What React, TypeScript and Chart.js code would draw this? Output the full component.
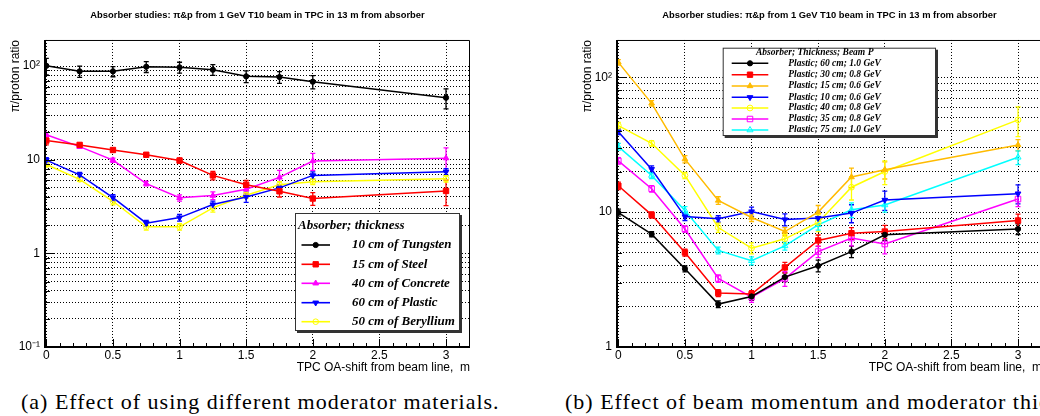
import React, { useEffect, useRef } from 'react';
import { Chart, registerables } from 'chart.js';

Chart.register(...registerables);

// ---------- text ----------
const TITLE = 'Absorber studies: π&p from 1 GeV T10 beam in TPC in 13 m from absorber';
const X_TITLE = 'TPC OA-shift from beam line,  m';
const Y_TITLE = 'π/proton ratio';
const CAPTION_A = '(a) Effect of using different moderator materials.';
const CAPTION_B = '(b) Effect of beam momentum and moderator thickness.';

// ---------- shared x values / ticks ----------
const shifts = [0, 0.25, 0.5, 0.75, 1, 1.25, 1.5, 1.75, 2, 3];
const xTicks = [0, 0.5, 1, 1.5, 2, 2.5, 3];

// ---------- (a) materials ----------
const tungsten = [100.7, 87.9, 87.9, 98.4, 96.9, 91.4, 77.7, 76.4, 68.1, 46.0];
const tungstenErr = [20, 12, 11, 13, 13, 12, 11, 11, 11, 11];
const steel = [16.0, 14.4, 12.7, 11.3, 9.8, 6.8, 5.4, 4.6, 3.85, 4.64];
const steelErr = [1.6, 0.6, 0.5, 0.5, 0.6, 0.7, 0.6, 0.6, 0.6, 1.4];
const concrete = [18.5, 13.8, 9.9, 5.56, 3.92, 4.14, 4.83, 6.48, 9.7, 10.4];
const concreteErr = [1.0, 0.6, 0.5, 0.3, 0.3, 0.4, 0.5, 1.2, 2.0, 3.0];
const plastic60 = [9.9, 6.9, 3.94, 2.1, 2.41, 3.32, 4.0, 5.0, 6.8, 7.45];
const plastic60Err = [0.6, 0.4, 0.3, 0.15, 0.2, 0.3, 0.5, 0.4, 0.6, 0.6];
const beryllium = [8.9, 6.17, 3.6, 1.92, 1.92, 3.06, 4.17, 5.42, 5.83, 6.28];
const berylliumErr = [0.5, 0.3, 0.3, 0.15, 0.15, 0.3, 0.3, 0.4, 0.4, 0.5];

// ---------- (b) momentum / thickness ----------
const p60_10 = [9.93, 6.87, 3.8, 2.08, 2.37, 3.3, 4.0, 5.1, 6.79, 7.5];
const p60_10Err = [0.6, 0.3, 0.2, 0.12, 0.15, 0.25, 0.4, 0.5, 0.6, 0.7];
const p30_08 = [15.7, 9.55, 5.02, 2.51, 2.47, 3.89, 6.17, 6.98, 7.18, 8.67];
const p30_08Err = [1.0, 0.5, 0.3, 0.15, 0.15, 0.35, 0.6, 0.7, 0.8, 1.0];
const p15_06 = [129, 64.1, 24.7, 12.2, 9.12, 7.18, 10.0, 18.2, 20.6, 31.5];
const p15_06Err = [6, 3, 1.5, 0.8, 0.6, 0.5, 1.2, 3, 3, 3];
const p10_06 = [39.5, 20.8, 9.27, 8.92, 10.1, 8.81, 9.03, 9.84, 12.3, 13.7];
const p10_06Err = [2.0, 1.2, 0.6, 0.5, 0.8, 0.9, 1.1, 1.5, 2.0, 2.2];
const p40_08 = [43.8, 32.4, 18.7, 7.69, 5.41, 6.34, 8.38, 15.3, 20.0, 48.3];
const p40_08Err = [2.5, 1.5, 1.0, 0.6, 0.5, 0.5, 1.2, 3, 4, 12];
const p35_08 = [24.0, 14.9, 7.5, 3.22, 2.34, 3.22, 5.1, 6.42, 5.8, 12.5];
const p35_08Err = [1.3, 0.8, 0.4, 0.2, 0.2, 0.4, 0.5, 0.8, 0.9, 1.5];
const p75_10 = [30.6, 18.7, 10.3, 5.2, 4.36, 5.62, 8.05, 10.4, 11.3, 25.5];
const p75_10Err = [1.8, 1.0, 0.7, 0.3, 0.3, 0.4, 0.7, 1.3, 1.3, 3.0];

type MarkerStyle = 'circle' | 'rect' | 'triangle';
type Series = {
  label: string;
  values: number[];
  errors: number[];
  color: string;
  style: MarkerStyle;
  rot?: number;
  r: number;
  open?: boolean;
};

const seriesA: Series[] = [
  { label: '10 cm of Tungsten', values: tungsten, errors: tungstenErr, color: '#000000', style: 'circle', r: 2.6 },
  { label: '15 cm of Steel', values: steel, errors: steelErr, color: '#ff0000', style: 'rect', r: 3.8 },
  { label: '40 cm of Concrete', values: concrete, errors: concreteErr, color: '#ff00ff', style: 'triangle', r: 3.3 },
  { label: '60 cm of Plastic', values: plastic60, errors: plastic60Err, color: '#0000ff', style: 'triangle', rot: 180, r: 3.3 },
  { label: '50 cm of Beryllium', values: beryllium, errors: berylliumErr, color: '#ffff00', style: 'circle', r: 2.8, open: true },
];

const seriesB: Series[] = [
  { label: 'Plastic; 60 cm; 1.0 GeV', values: p60_10, errors: p60_10Err, color: '#000000', style: 'circle', r: 2.6 },
  { label: 'Plastic; 30 cm; 0.8 GeV', values: p30_08, errors: p30_08Err, color: '#ff0000', style: 'rect', r: 3.8 },
  { label: 'Plastic; 15 cm; 0.6 GeV', values: p15_06, errors: p15_06Err, color: '#ffbb00', style: 'triangle', r: 3.3 },
  { label: 'Plastic; 10 cm; 0.6 GeV', values: p10_06, errors: p10_06Err, color: '#0000ff', style: 'triangle', rot: 180, r: 3.3 },
  { label: 'Plastic; 40 cm; 0.8 GeV', values: p40_08, errors: p40_08Err, color: '#ffff00', style: 'circle', r: 2.9, open: true },
  { label: 'Plastic; 35 cm; 0.8 GeV', values: p35_08, errors: p35_08Err, color: '#ff00ff', style: 'rect', r: 3.9, open: true },
  { label: 'Plastic; 75 cm; 1.0 GeV', values: p75_10, errors: p75_10Err, color: '#00ffff', style: 'triangle', r: 3.5, open: true },
];

type LegendLayout = {
  box: [number, number, number, number];
  header: string;
  headerX: number;
  headerY: number;
  headerSize: number;
  rowsY: number[];
  lineX1: number;
  lineX2: number;
  markerX: number;
  textX: number;
  fontSize: number;
};

const legendA: LegendLayout = {
  box: [295, 213, 165, 118],
  header: 'Absorber; thickness',
  headerX: 298,
  headerY: 226,
  headerSize: 13,
  rowsY: [245, 264.3, 283.3, 302.7, 321.7],
  lineX1: 301.5,
  lineX2: 330,
  markerX: 315.7,
  textX: 352,
  fontSize: 13,
};

const legendB: LegendLayout = {
  box: [150.7, 47.7, 213.3, 88.3],
  header: 'Absorber; Thickness; Beam P',
  headerX: 184,
  headerY: 52.7,
  headerSize: 9.5,
  rowsY: [63.3, 74.7, 86, 97.3, 108, 119, 130],
  lineX1: 159.7,
  lineX2: 196.3,
  markerX: 178,
  textX: 216.3,
  fontSize: 9.5,
};

const SANS = "'Liberation Sans', Arial, sans-serif";
const SERIF = "'Liberation Serif', 'Times New Roman', serif";

function drawMarker(
  ctx: CanvasRenderingContext2D,
  style: MarkerStyle,
  x: number,
  y: number,
  r: number,
  rot: number,
  color: string,
  open: boolean
) {
  ctx.save();
  ctx.beginPath();
  if (style === 'circle') {
    ctx.arc(x, y, r, 0, Math.PI * 2);
  } else if (style === 'rect') {
    const s = r * Math.SQRT1_2;
    ctx.rect(x - s, y - s, 2 * s, 2 * s);
  } else {
    let a = (rot * Math.PI) / 180;
    ctx.moveTo(x + Math.sin(a) * r, y - Math.cos(a) * r);
    a += (2 * Math.PI) / 3;
    ctx.lineTo(x + Math.sin(a) * r, y - Math.cos(a) * r);
    a += (2 * Math.PI) / 3;
    ctx.lineTo(x + Math.sin(a) * r, y - Math.cos(a) * r);
    ctx.closePath();
  }
  if (!open) {
    ctx.fillStyle = color;
    ctx.fill();
  }
  ctx.strokeStyle = color;
  ctx.lineWidth = 1;
  ctx.stroke();
  ctx.restore();
}

function rootPlugin(series: Series[], legend: LegendLayout) {
  return {
    id: 'rootStyle',
    beforeDatasetsDraw(chart: any) {
      const ctx: CanvasRenderingContext2D = chart.ctx;
      const yScale = chart.scales.y;
      const area = chart.chartArea;
      ctx.save();
      ctx.beginPath();
      ctx.rect(area.left, area.top, area.right - area.left, area.bottom - area.top);
      ctx.clip();
      series.forEach((s, i) => {
        const meta = chart.getDatasetMeta(i);
        ctx.strokeStyle = s.color;
        ctx.lineWidth = 1.3;
        meta.data.forEach((pt: any, j: number) => {
          const v = s.values[j];
          const e = s.errors[j];
          const lo = Math.max(v - e, yScale.min);
          const yTop = yScale.getPixelForValue(v + e);
          const yBot = yScale.getPixelForValue(lo);
          ctx.beginPath();
          ctx.moveTo(pt.x, yTop);
          ctx.lineTo(pt.x, yBot);
          ctx.moveTo(pt.x - 2.5, yTop);
          ctx.lineTo(pt.x + 2.5, yTop);
          ctx.moveTo(pt.x - 2.5, yBot);
          ctx.lineTo(pt.x + 2.5, yBot);
          ctx.stroke();
        });
      });
      ctx.restore();
    },
    afterDatasetsDraw(chart: any) {
      const ctx: CanvasRenderingContext2D = chart.ctx;
      const { left, right, top, bottom } = chart.chartArea;
      const xScale = chart.scales.x;
      const yScale = chart.scales.y;
      ctx.save();
      // frame
      ctx.strokeStyle = '#000';
      ctx.lineWidth = 1;
      ctx.beginPath();
      ctx.moveTo(left, top + 0.5);
      ctx.lineTo(right - 0.5, top + 0.5);
      ctx.lineTo(right - 0.5, bottom);
      ctx.stroke();
      ctx.lineWidth = 2;
      ctx.beginPath();
      ctx.moveTo(left, top);
      ctx.lineTo(left, bottom);
      ctx.lineTo(right, bottom);
      ctx.stroke();
      // x ticks (inside)
      ctx.lineWidth = 1;
      ctx.beginPath();
      for (let k = 0; k <= 31; k++) {
        const v = k / 10;
        const px = Math.round(xScale.getPixelForValue(v)) + 0.5;
        if (px > right) break;
        const len = k % 5 === 0 ? 8 : 4;
        ctx.moveTo(px, bottom);
        ctx.lineTo(px, bottom - len);
      }
      // y ticks (inside)
      const lo = Math.floor(Math.log10(yScale.min));
      const hi = Math.ceil(Math.log10(yScale.max));
      for (let p = lo; p <= hi; p++) {
        for (let d = 1; d <= 9; d++) {
          const v = d * Math.pow(10, p);
          if (v < yScale.min * 0.999 || v > yScale.max) continue;
          const py = Math.round(yScale.getPixelForValue(v)) + 0.5;
          const len = d === 1 ? 10 : 5;
          ctx.moveTo(left, py);
          ctx.lineTo(left + len, py);
        }
      }
      ctx.stroke();

      // legend
      const [bx, by, bw, bh] = legend.box;
      ctx.fillStyle = '#333';
      ctx.fillRect(bx + 2, by + 2, bw, bh);
      ctx.fillStyle = '#fff';
      ctx.fillRect(bx, by, bw, bh);
      ctx.strokeStyle = '#333';
      ctx.lineWidth = 1;
      ctx.strokeRect(bx + 0.5, by + 0.5, bw - 1, bh - 1);
      ctx.fillStyle = '#000';
      ctx.textBaseline = 'middle';
      ctx.textAlign = 'left';
      ctx.font = `italic bold ${legend.headerSize}px ${SERIF}`;
      ctx.fillText(legend.header, legend.headerX, legend.headerY);
      ctx.font = `italic bold ${legend.fontSize}px ${SERIF}`;
      series.forEach((s, i) => {
        const y = legend.rowsY[i];
        ctx.strokeStyle = s.color;
        ctx.lineWidth = 1.6;
        ctx.beginPath();
        ctx.moveTo(legend.lineX1, y);
        ctx.lineTo(legend.lineX2, y);
        ctx.stroke();
        drawMarker(ctx, s.style, legend.markerX, y, s.r, s.rot || 0, s.color, !!s.open);
        ctx.fillStyle = '#000';
        ctx.fillText(s.label, legend.textX, y);
      });
      ctx.restore();
    },
  };
}

function superscriptLabel(v: number): string {
  const p = Math.round(Math.log10(v));
  if (Math.abs(Math.log10(v) - p) > 1e-6) return '';
  if (p === 0) return '1';
  if (p === 1) return '10';
  if (p === 2) return '10²';
  if (p === -1) return '10⁻¹';
  return String(v);
}

function buildChart(canvas: HTMLCanvasElement, series: Series[], yMin: number, yMax: number, legend: LegendLayout) {
  const tickFont = { family: SANS, size: 12 };
  return new Chart(canvas, {
    type: 'line',
    data: {
      datasets: series.map((s) => ({
        label: s.label,
        data: shifts.map((x, i) => ({ x, y: s.values[i] })),
        borderColor: s.color,
        backgroundColor: s.open ? 'rgba(0,0,0,0)' : s.color,
        pointBackgroundColor: s.open ? 'rgba(0,0,0,0)' : s.color,
        pointBorderColor: s.color,
        pointStyle: s.style,
        pointRotation: s.rot || 0,
        pointRadius: s.r,
        pointHoverRadius: s.r,
        pointBorderWidth: 1,
        borderWidth: 1.5,
        tension: 0,
        fill: false,
      })),
    },
    options: {
      animation: false,
      responsive: false,
      devicePixelRatio: 1,
      events: [],
      layout: { padding: { left: 8, right: 60, top: 0, bottom: 0 } },
      plugins: {
        legend: { display: false },
        tooltip: { enabled: false },
        title: {
          display: true,
          text: TITLE,
          fullSize: false,
          color: '#000',
          font: { family: SANS, size: 9.4, weight: 'bold', lineHeight: 1.2 },
          padding: { top: 9.4, bottom: 19.3 },
        },
      },
      scales: {
        x: {
          type: 'linear',
          min: -0.01,
          max: 3.18,
          afterBuildTicks: (scale: any) => {
            scale.ticks = xTicks.map((value) => ({ value }));
          },
          afterFit: (scale: any) => {
            scale.height = 33;
          },
          ticks: {
            autoSkip: false,
            maxRotation: 0,
            padding: 1,
            color: '#000',
            font: tickFont,
            callback: (v: any) => String(v),
          },
          grid: { color: '#000', lineWidth: 1, drawTicks: false },
          border: { display: false, dash: [1, 2] },
          title: {
            display: true,
            text: X_TITLE,
            align: 'end',
            color: '#000',
            font: { family: SANS, size: 12, lineHeight: 1.2 },
            padding: { top: 0, bottom: 5 },
          },
        },
        y: {
          type: 'logarithmic',
          min: yMin,
          max: yMax,
          afterBuildTicks: (scale: any) => {
            const ticks: { value: number }[] = [];
            const lo = Math.floor(Math.log10(yMin));
            const hi = Math.ceil(Math.log10(yMax));
            for (let p = lo; p <= hi; p++) {
              for (let d = 1; d <= 9; d++) {
                const v = +(d * Math.pow(10, p)).toPrecision(6);
                if (v >= yMin * 0.999 && v <= yMax) ticks.push({ value: v });
              }
            }
            scale.ticks = ticks;
          },
          afterFit: (scale: any) => {
            scale.width = 37;
          },
          ticks: {
            autoSkip: false,
            padding: 5,
            color: '#000',
            font: tickFont,
            callback: (v: any) => superscriptLabel(Number(v)),
          },
          grid: { color: '#000', lineWidth: 1, drawTicks: false },
          border: { display: false, dash: [1, 2] },
          title: {
            display: true,
            text: Y_TITLE,
            align: 'end',
            color: '#000',
            font: { family: SANS, size: 12, lineHeight: 1.2 },
            padding: { top: 0, bottom: 0 },
          },
        },
      },
    },
    plugins: [rootPlugin(series, legend)],
  } as any);
}

const CANVAS_W = 530;
const CANVAS_H = 380;

export default function App() {
  const leftRef = useRef<HTMLCanvasElement | null>(null);
  const rightRef = useRef<HTMLCanvasElement | null>(null);

  useEffect(() => {
    document.body.style.margin = '0';
    const a = buildChart(leftRef.current!, seriesA, 0.1, 190, legendA);
    const b = buildChart(rightRef.current!, seriesB, 1, 189, legendB);
    return () => {
      a.destroy();
      b.destroy();
    };
  }, []);

  const captionStyle: React.CSSProperties = {
    position: 'absolute',
    top: 390,
    fontFamily: SERIF,
    fontSize: 22,
    lineHeight: '24px',
    whiteSpace: 'nowrap',
    color: '#000',
    letterSpacing: '1px',
  };

  return (
    <div
      style={{
        position: 'fixed',
        left: 0,
        top: 0,
        width: 1040,
        height: 416,
        overflow: 'hidden',
        background: '#fff',
      }}
    >
      <canvas
        ref={leftRef}
        width={CANVAS_W}
        height={CANVAS_H}
        style={{ position: 'absolute', left: 0, top: 0, width: CANVAS_W, height: CANVAS_H }}
      />
      <canvas
        ref={rightRef}
        width={CANVAS_W}
        height={CANVAS_H}
        style={{ position: 'absolute', left: 572, top: 0, width: CANVAS_W, height: CANVAS_H }}
      />
      <div style={{ ...captionStyle, left: 21 }}>{CAPTION_A}</div>
      <div style={{ ...captionStyle, left: 565 }}>{CAPTION_B}</div>
    </div>
  );
}
